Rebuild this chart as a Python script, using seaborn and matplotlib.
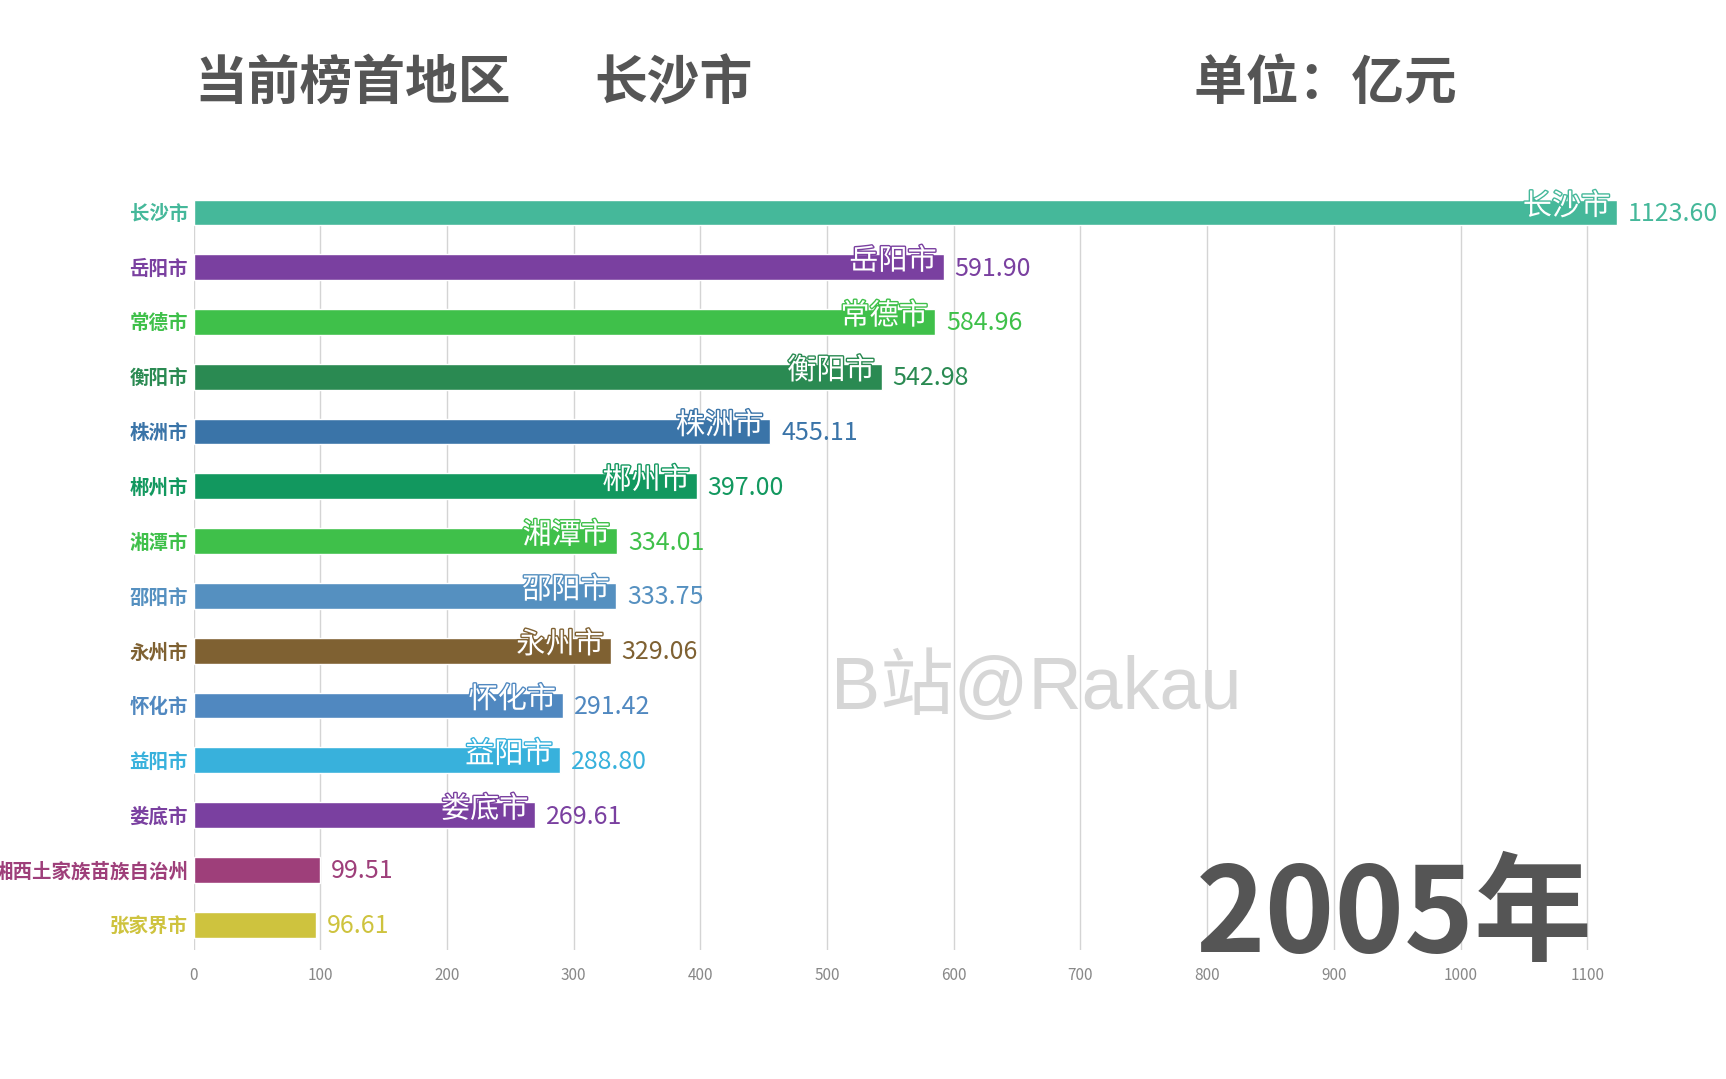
import matplotlib
matplotlib.use("Agg")
import matplotlib.pyplot as plt
import matplotlib.patheffects as pe
import seaborn as sns
import pandas as pd

# GDP ranking, 2005 (unit: 亿元)
cities = ["长沙市", "岳阳市", "常德市", "衡阳市", "株洲市", "郴州市", "湘潭市",
          "邵阳市", "永州市", "怀化市", "益阳市", "娄底市", "湘西土家族苗族自治州", "张家界市"]
values = [1123.60, 591.90, 584.96, 542.98, 455.11, 397.00, 334.01,
          333.75, 329.06, 291.42, 288.80, 269.61, 99.51, 96.61]
colors = ["#45b89a", "#7a40a0", "#3fc04a", "#2a8a52", "#3a74a8", "#12985f", "#3fc04a",
          "#5590c0", "#7f6132", "#5088c0", "#38b1dc", "#7a40a0", "#9e3f7a", "#cec33e"]
year = "2005年"
leader = "长沙市"
xticks = [0, 100, 200, 300, 400, 500, 600, 700, 800, 900, 1000, 1100]

sns.set_style("white")
plt.rcParams['font.family'] = ['Noto Sans CJK SC', 'DejaVu Sans']

df = pd.DataFrame({"city": cities, "gdp": values})
palette = dict(zip(cities, colors))

fig = plt.figure(figsize=(17.26, 10.79), dpi=100)
ax = fig.add_axes([0.1122, 0.1196, 0.8808, 0.6955])

sns.barplot(data=df, x="gdp", y="city", hue="city", palette=palette, order=cities,
            orient="h", width=0.47, saturation=1, legend=False, ax=ax, zorder=2)

ax.set_xlim(0, 1200)
ax.set_ylim(13.46, -0.235)
ax.set_xticks(xticks)
ax.set_xticklabels([str(t) for t in xticks], color="#888888", fontsize=11)
ax.tick_params(axis="x", length=0, pad=12)
ax.tick_params(axis="y", length=0, pad=4)
for t in xticks:
    ax.axvline(t, color="#d4d4d4", lw=1, zorder=1)
for s in ax.spines.values():
    s.set_visible(False)
ax.set_xlabel("")
ax.set_ylabel("")

for lab, c in zip(ax.get_yticklabels(), colors):
    lab.set_color(c)
    lab.set_fontweight("bold")
    lab.set_fontsize(14)

for i, (name, v, c) in enumerate(zip(cities, values, colors)):
    ax.annotate(f"{v:.2f}", (v, i), xytext=(8, -1), textcoords="offset points",
                ha="left", va="center", color=c, fontsize=18)
    if v > 200:
        ax.annotate(name, (v, i), xytext=(-5, 4), textcoords="offset points",
                    ha="right", va="center", color="white", fontsize=21, zorder=3,
                    path_effects=[pe.withStroke(linewidth=2, foreground=c)])

# header
fig.text(194 / 1726, 1 - 83 / 1079, "当前榜首地区", fontsize=38, fontweight="bold",
         color="#555555", va="center", ha="left")
fig.text(594 / 1726, 1 - 83 / 1079, leader, fontsize=38, fontweight="bold",
         color="#555555", va="center", ha="left")
fig.text(1194 / 1726, 1 - 83 / 1079, "单位：亿元", fontsize=38, fontweight="bold",
         color="#555555", va="center", ha="left")

# watermark
fig.text(831 / 1726, 1 - 688 / 1079, "B站@Rakau", fontsize=53, color="#d6d6d6",
         family=["Liberation Sans", "Noto Sans CJK SC"], va="center", ha="left", zorder=5)

# year
fig.text(1196 / 1726, 1 - 952 / 1079, year, fontsize=85, fontweight="bold",
         color="#555555", va="baseline", ha="left")

fig.savefig("out.png", dpi=100, facecolor="white")
